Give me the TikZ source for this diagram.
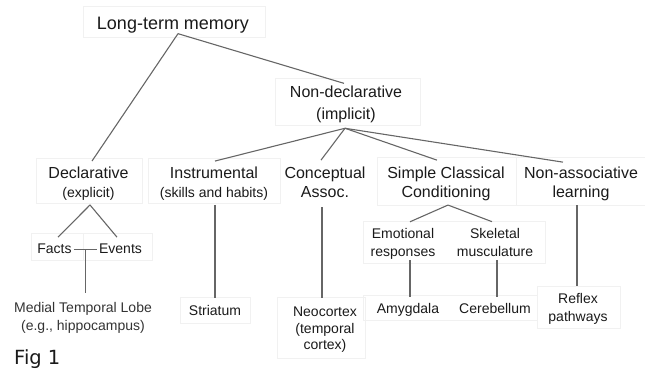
\documentclass[tikz,border=0pt]{standalone}
\usepackage{fontspec}
\setmainfont{Liberation Sans}
\newfontfamily\figfont{DejaVu Sans}
\usetikzlibrary{calc}
\definecolor{linkgray}{HTML}{666666}
\definecolor{boxgray}{HTML}{F1F1F1}
\definecolor{txt}{HTML}{1A1A1A}
\tikzset{
  link/.style={draw=linkgray, line width=1.1pt},
  faint/.style={draw=boxgray, line width=0.5pt},
  big/.style={inner sep=0pt, text=txt, font=\fontsize{18}{21}\selectfont},
  mid/.style={inner sep=0pt, text=txt, align=center, font=\fontsize{16}{19}\selectfont},
  small/.style={inner sep=0pt, text=txt, align=center, font=\fontsize{14}{18}\selectfont},
}
\begin{document}
\begin{tikzpicture}[x=1pt,y=-1pt]
\useasboundingbox (0,0) rectangle (645,368);
% faint frames
\draw[faint] (83,6) rectangle (265,37);
\draw[faint] (275,78) rectangle (420,125);
\draw[faint] (36,158) rectangle (142,203);
\draw[faint] (148,158) rectangle (280,203);
\draw[faint] (377,157) rectangle (516,205);
\draw[faint] (516,157) rectangle (645,205);
\draw[faint] (31,233) rectangle (83,260);
\draw[faint] (83,233) rectangle (152,260);
\draw[faint] (180,297) rectangle (250,323);
\draw[faint] (277,297) rectangle (365,358);
\draw[faint] (363,221) rectangle (545,263);
\draw[faint] (363,295) rectangle (537,320);
\draw[faint] (537,286) rectangle (620,328);

% nodes
\node[big] (ltm) at (173,25.4) {Long-term memory};
\node[mid, font=\fontsize{16}{22}\selectfont] (nondecl) at (346,104) {Non-declarative\\(implicit)};
\node[mid] (decl) at (88.5,184) {Declarative\\{\fontsize{14}{19}\selectfont (explicit)}};
\node[mid] (instr) at (214,184) {Instrumental\\{\fontsize{14}{19}\selectfont (skills and habits)}};
\node[mid] (conc) at (325,182.7) {Conceptual\\Assoc.};
\node[mid] (scc) at (446,184.3) {Simple Classical\\Conditioning};
\node[mid] (nonassoc) at (581,184.3) {Non-associative\\learning};
\node[small, anchor=base] (facts) at (54.5,253) {Facts};
\node[small, anchor=base] (events) at (120.5,253) {Events};
\node[small, font=\fontsize{14}{17.5}\selectfont, text=black!80] (mtl) at (83,317.7) {Medial Temporal Lobe\\(e.g., hippocampus)};
\node[small, anchor=base] (striatum) at (215,315) {Striatum};
\node[small, font=\fontsize{14}{16.5}\selectfont] (neo) at (325,330) {Neocortex\\(temporal\\cortex)};
\node[small] (emot) at (403,243.5) {Emotional\\responses};
\node[small] (skel) at (495,242) {Skeletal\\musculature};
\node[small, anchor=base] (amyg) at (408,313) {Amygdala};
\node[small, anchor=base] (cereb) at (495,313) {Cerebellum};
\node[small] (reflex) at (578,309) {Reflex\\pathways};
\node[inner sep=0pt, anchor=base west, text=txt, font=\figfont\fontsize{19.5}{22}\selectfont] (fig) at (14,364.3) {Fig 1};

% connectors
\draw[link] ([xshift=5pt]ltm.south) -- ([xshift=3.5pt,yshift=6pt]decl.north);
\draw[link] ([xshift=5pt]ltm.south) -- ([xshift=-2pt,yshift=2pt]nondecl.north);
\draw[link] ([xshift=-1pt,yshift=-5.6pt]nondecl.south) -- ([xshift=1pt,yshift=6pt]instr.north);
\draw[link] ([xshift=-1pt,yshift=-5.6pt]nondecl.south) -- ([xshift=-4pt,yshift=7pt]conc.north);
\draw[link] ([xshift=-1pt,yshift=-5.6pt]nondecl.south) -- ([xshift=-9pt,yshift=7pt]scc.north);
\draw[link] ([xshift=-1pt,yshift=-5.6pt]nondecl.south) -- ([xshift=-18pt,yshift=5pt]nonassoc.north);
% declarative subtree
\draw[link] ([xshift=1.5pt,yshift=-4pt]decl.south) -- ([xshift=3.5pt,yshift=6pt]facts.north);
\draw[link] ([xshift=1.5pt,yshift=-4pt]decl.south) -- ([xshift=-3.5pt,yshift=6pt]events.north);
\draw[link] ([xshift=2pt,yshift=-1pt]facts.east) -- ([xshift=-2pt,yshift=-1pt]events.west);
\coordinate (fe) at ($(facts.east)!0.5!(events.west)+(0,1)$);
\draw[link] (fe) -- ($(fe |- mtl.north)+(0,-9.5)$);
% instrumental
\draw[link] ([xshift=1pt,yshift=-4pt]instr.south) -- ([yshift=7pt]striatum.north);
% conceptual
\draw[link] ([xshift=-3pt,yshift=-9pt]conc.south) -- ([xshift=-3pt,yshift=9pt]neo.north);
% simple classical conditioning
\draw[link] ([xshift=2pt,yshift=-3.6pt]scc.south) -- ([xshift=7pt,yshift=6pt]emot.north);
\draw[link] ([xshift=2pt,yshift=-3.6pt]scc.south) -- ([xshift=-3pt,yshift=6pt]skel.north);
\draw[link] ([xshift=7pt,yshift=-1pt]emot.south) -- ([xshift=2pt,yshift=6pt]amyg.north);
\draw[link] ([xshift=2pt,yshift=-4pt]skel.south) -- ([xshift=2pt,yshift=6pt]cereb.north);
% non-associative
\draw[link] ([xshift=-4pt,yshift=-3.6pt]nonassoc.south) -- ([xshift=-1pt,yshift=7pt]reflex.north);
\end{tikzpicture}
\end{document}
